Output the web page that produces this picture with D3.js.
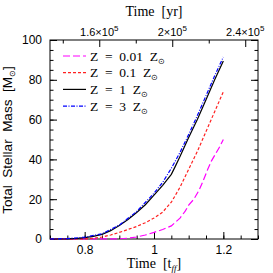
<!DOCTYPE html>
<html>
<head>
<meta charset="utf-8">
<script src="https://cdn.jsdelivr.net/npm/d3@7"></script>
<style>
body { margin: 0; background: #fff; }
text { fill: #000; }
.axis path { display: none; }
.axis line { stroke: #000; stroke-width: 1; }
</style>
</head>
<body>
<script>
// Time in free-fall times
var tZ001 = [0.70, 0.90, 0.925, 0.95, 0.975, 1.00, 1.025, 1.05, 1.075, 1.09, 1.10, 1.115, 1.13, 1.14, 1.155, 1.165, 1.175, 1.19, 1.20];
var mZ001 = [0, 0.1, 0.4, 1.0, 2.0, 3.3, 4.8, 6.6, 10.5, 14, 17, 20, 24.5, 28.5, 35, 39, 42, 46.5, 50];

var tZ01 = [0.70, 0.80, 0.825, 0.85, 0.875, 0.90, 0.925, 0.95, 0.975, 1.00, 1.025, 1.05, 1.075, 1.10, 1.125, 1.15, 1.175, 1.20];
var mZ01 = [0, 0.1, 0.4, 1.0, 2.0, 3.3, 4.8, 6.3, 8.2, 10.5, 13.5, 18.5, 26, 35, 44, 54, 64, 74];

var tZ1 = [0.70, 0.75, 0.78, 0.80, 0.825, 0.85, 0.875, 0.90, 0.925, 0.95, 0.975, 1.00, 1.025, 1.05, 1.06, 1.075, 1.10, 1.125, 1.15, 1.175, 1.20];
var mZ1 = [0, 0.1, 0.3, 0.7, 1.3, 2.3, 4.2, 6.8, 9.8, 13.3, 17.2, 22, 27, 32.5, 36, 41.5, 51, 60, 70, 80, 89.5];

var tZ3 = [0.70, 0.75, 0.80, 0.85, 0.90, 0.95, 1.00, 1.025, 1.05, 1.075, 1.10, 1.125, 1.15, 1.175, 1.20];
var mZ3 = [0, 0.2, 0.9, 2.6, 7.0, 13.8, 23, 28.5, 35.5, 43.5, 52.5, 62, 72, 82, 91.5];

var seriesNames = ["0.01", "0.1", "1", "3"];
var xTicks = [0.8, 1, 1.2];
var yTicks = [0, 20, 40, 60, 80, 100];
var yrTicks = [1.6e5, 2e5, 2.4e5];
var tff = 1.9e5; // years per free-fall time

var series = [
  { name: seriesNames[0], t: tZ001, m: mZ001, color: "#ff00ff", dash: "7,3" },
  { name: seriesNames[1], t: tZ01, m: mZ01, color: "#ff2020", dash: "3,2" },
  { name: seriesNames[2], t: tZ1, m: mZ1, color: "#000000", dash: null },
  { name: seriesNames[3], t: tZ3, m: mZ3, color: "#0000ff", dash: "4,1.5,1,1.5" }
];

var pLeft = 50, pRight = 258, pTop = 40, pBottom = 239;

var x = d3.scaleLinear().domain([0.7, 1.3]).range([pLeft, pRight]);
var y = d3.scaleLinear().domain([0, 100]).range([pBottom, pTop]);
var xYr = d3.scaleLinear().domain([0.7 * tff, 1.3 * tff]).range([pLeft, pRight]);

var svg = d3.select("body").append("svg")
  .attr("width", 273).attr("height", 273);

// minor + major ticks, all pointing inward
function ticks(axis, transform) {
  svg.append("g").attr("class", "axis").attr("transform", transform).call(axis);
}
ticks(d3.axisBottom(x).tickValues(d3.range(0.7, 1.3001, 0.05)).tickSize(-3.5).tickFormat(""), "translate(0," + pBottom + ")");
ticks(d3.axisBottom(x).tickValues(xTicks).tickSize(-7).tickPadding(6).tickFormat(d3.format("")), "translate(0," + pBottom + ")");
ticks(d3.axisLeft(y).tickValues(d3.range(0, 100.01, 5)).tickSize(-3.5).tickFormat(""), "translate(" + pLeft + ",0)");
ticks(d3.axisLeft(y).tickValues(yTicks).tickSize(-7).tickPadding(8), "translate(" + pLeft + ",0)");
ticks(d3.axisRight(y).tickValues(d3.range(0, 100.01, 5)).tickSize(-3.5).tickFormat(""), "translate(" + pRight + ",0)");
ticks(d3.axisRight(y).tickValues(yTicks).tickSize(-7).tickFormat(""), "translate(" + pRight + ",0)");
ticks(d3.axisTop(xYr).tickValues([1.4e5, 1.8e5, 2.2e5]).tickSize(-3.5).tickFormat(""), "translate(0," + pTop + ")");
ticks(d3.axisTop(xYr).tickValues(yrTicks).tickSize(-7).tickFormat(""), "translate(0," + pTop + ")");

svg.selectAll(".axis text")
  .style("font-family", "'Liberation Sans', Arial, sans-serif")
  .style("font-size", "12px");

// top labels a×10^5
var topLab = svg.selectAll(".yrlab").data(yrTicks).enter().append("text")
  .attr("class", "yrlab")
  .attr("x", function(d) { return xYr(d); })
  .attr("y", 36)
  .attr("text-anchor", "middle")
  .style("font-family", "'Liberation Sans', Arial, sans-serif")
  .style("font-size", "11px");
topLab.append("tspan").text(function(d) { return (d / 1e5) + "\u00d710"; });
topLab.append("tspan").attr("dy", -5).style("font-size", "8px").text("5");

// frame
svg.append("rect").attr("x", pLeft).attr("y", pTop)
  .attr("width", pRight - pLeft).attr("height", pBottom - pTop)
  .attr("fill", "none").attr("stroke", "#000").attr("stroke-width", 1);

// curves
var line = d3.line()
  .x(function(d) { return x(d[0]); })
  .y(function(d) { return y(d[1]); });

svg.selectAll(".curve").data(series).enter().append("path")
  .attr("class", "curve")
  .attr("d", function(s) { return line(d3.zip(s.t, s.m)); })
  .attr("fill", "none")
  .attr("stroke", function(s) { return s.color; })
  .attr("stroke-width", 1.2)
  .attr("stroke-dasharray", function(s) { return s.dash; });

// legend
var legend = svg.selectAll(".legend").data(series).enter().append("g")
  .attr("class", "legend")
  .attr("transform", function(d, i) { return "translate(0," + (56 + i * 16.7) + ")"; });

legend.append("line")
  .attr("x1", 63).attr("x2", 86).attr("y1", 0).attr("y2", 0)
  .attr("stroke", function(s) { return s.color; })
  .attr("stroke-width", 1.2)
  .attr("stroke-dasharray", function(s) { return s.dash; });

var lt = legend.append("text")
  .attr("x", 90).attr("y", 4.5)
  .style("font-family", "'Liberation Serif', 'Times New Roman', serif")
  .style("font-size", "13.5px")
  .style("white-space", "pre");
lt.append("tspan").text(function(s) { return "Z  =  " + s.name + "  Z"; });
lt.append("tspan").attr("dy", 3).style("font-size", "8px").text("\u2299");

// axis titles
var bt = svg.append("text").attr("x", 154).attr("y", 268)
  .attr("text-anchor", "middle")
  .style("font-family", "'Liberation Serif', 'Times New Roman', serif")
  .style("font-size", "14px")
  .style("white-space", "pre");
bt.append("tspan").text("Time  [t");
bt.append("tspan").attr("dy", 3).style("font-size", "9px").style("font-style", "italic").text("ff");
bt.append("tspan").attr("dy", -3).text("]");

svg.append("text").attr("x", 154).attr("y", 16)
  .attr("text-anchor", "middle")
  .style("font-family", "'Liberation Serif', 'Times New Roman', serif")
  .style("font-size", "14px")
  .style("white-space", "pre")
  .text("Time  [yr]");

var yl = svg.append("text")
  .attr("transform", "translate(12,140) rotate(-90)")
  .attr("text-anchor", "middle")
  .style("font-family", "'Liberation Sans', Arial, sans-serif")
  .style("font-size", "13.5px")
  .style("white-space", "pre");
yl.append("tspan").text("Total  Stellar  Mass  [M");
yl.append("tspan").attr("dy", 3).style("font-size", "8px").text("\u2299");
yl.append("tspan").attr("dy", -3).text("]");
</script>
</body>
</html>
